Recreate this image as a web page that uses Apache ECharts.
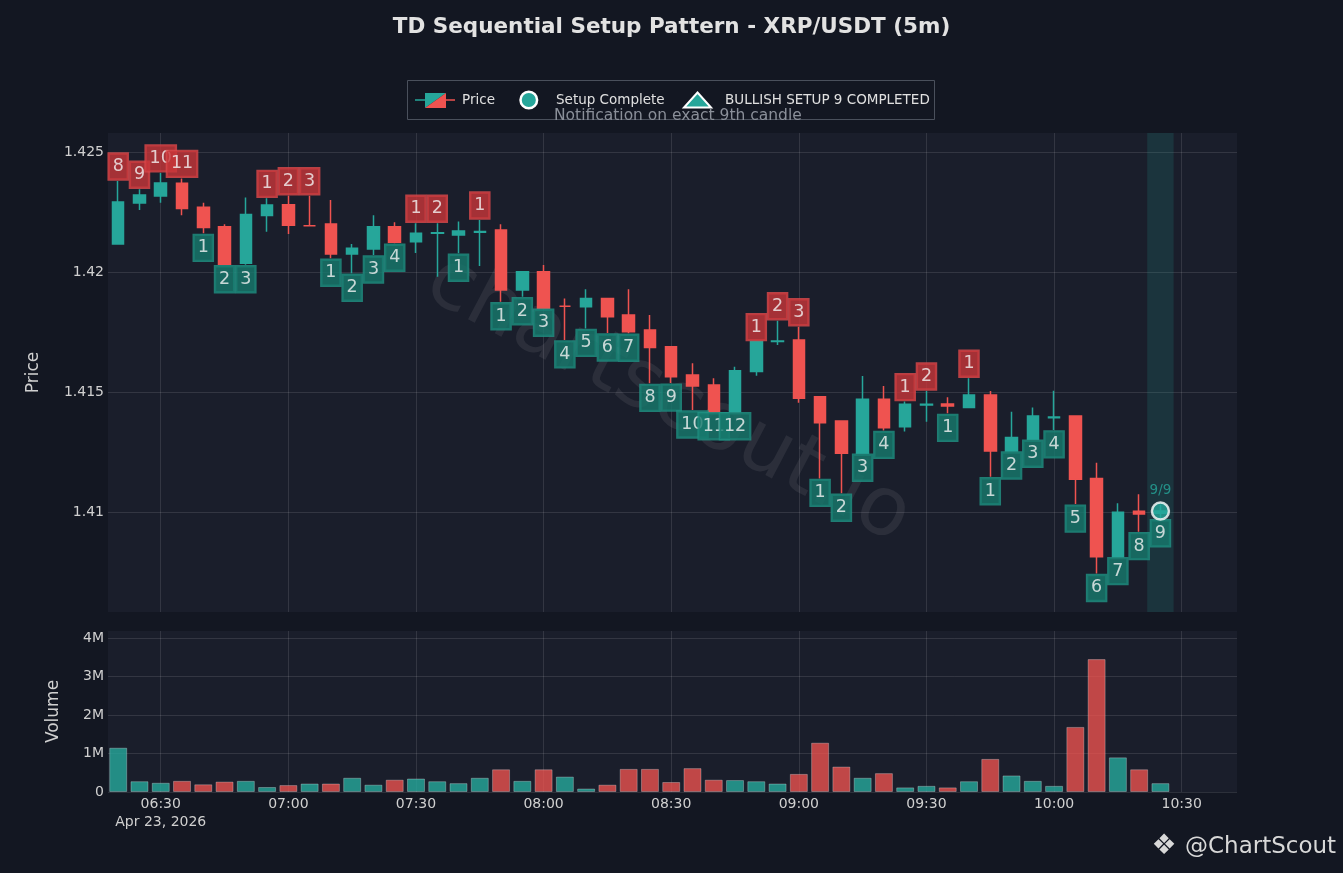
<!DOCTYPE html>
<html>
<head>
<meta charset="utf-8">
<script src="https://cdn.jsdelivr.net/npm/echarts@6/dist/echarts.min.js"></script>
<style>
html,body{margin:0;padding:0;background:#131722;}
#chart{width:1343px;height:873px;}
</style>
</head>
<body>
<div id="chart"></div>
<script>
const times = ['06:20','06:25','06:30','06:35','06:40','06:45','06:50','06:55','07:00','07:05',
  '07:10','07:15','07:20','07:25','07:30','07:35','07:40','07:45','07:50','07:55',
  '08:00','08:05','08:10','08:15','08:20','08:25','08:30','08:35','08:40','08:45',
  '08:50','08:55','09:00','09:05','09:10','09:15','09:20','09:25','09:30','09:35',
  '09:40','09:45','09:50','09:55','10:00','10:05','10:10','10:15','10:20','10:25'];
const openP = [1.42117,1.42288,1.42317,1.42370,1.42270,1.42189,1.42036,1.42235,1.42280,1.42193,
  1.42200,1.42075,1.42096,1.42189,1.42126,1.42161,1.42154,1.42166,1.42175,1.41925,
  1.42001,1.41857,1.41855,1.41890,1.41821,1.41758,1.41689,1.41571,1.41529,1.41418,
  1.41585,1.41710,1.41717,1.41480,1.41379,1.41245,1.41470,1.41355,1.41446,1.41450,
  1.41435,1.41487,1.41254,1.41303,1.41393,1.41400,1.41140,1.40814,1.41003,1.40995];
const closeP = [1.42292,1.42321,1.42371,1.42265,1.42185,1.42032,1.42240,1.42279,1.42195,1.42193,
  1.42075,1.42099,1.42189,1.42124,1.42161,1.42164,1.42171,1.42169,1.41925,1.42001,
  1.41849,1.41857,1.41890,1.41814,1.41751,1.41685,1.41564,1.41525,1.41418,1.41589,
  1.41710,1.41713,1.41474,1.41372,1.41245,1.41470,1.41351,1.41449,1.41449,1.41442,
  1.41487,1.41254,1.41310,1.41400,1.41396,1.41136,1.40814,1.40999,1.40992,1.41004];
const lowP = [1.42115,1.42258,1.42289,1.42237,1.42161,1.42030,1.42030,1.42168,1.42158,1.42193,
  1.42057,1.41995,1.42071,1.42120,1.42079,1.41980,1.42078,1.42025,1.41876,1.41897,
  1.41849,1.41717,1.41765,1.41746,1.41745,1.41536,1.41537,1.41425,1.41418,1.41418,
  1.41568,1.41696,1.41455,1.41140,1.41078,1.41245,1.41340,1.41335,1.41376,1.41411,
  1.41435,1.41147,1.41254,1.41303,1.41342,1.41033,1.40744,1.40814,1.40918,1.40972];
const highP = [1.42379,1.42345,1.42413,1.42390,1.42289,1.42199,1.42310,1.42307,1.42318,1.42318,
  1.42300,1.42117,1.42237,1.42207,1.42203,1.42203,1.42210,1.42217,1.42199,1.42001,
  1.42029,1.41890,1.41928,1.41890,1.41928,1.41821,1.41689,1.41620,1.41557,1.41605,
  1.41710,1.41797,1.41772,1.41480,1.41379,1.41567,1.41525,1.41460,1.41504,1.41478,
  1.41557,1.41504,1.41418,1.41435,1.41505,1.41400,1.41205,1.41036,1.41074,1.41030];
const volume = [1.15,0.28,0.24,0.29,0.20,0.27,0.29,0.13,0.18,0.22,
  0.22,0.37,0.19,0.32,0.35,0.28,0.23,0.37,0.59,0.29,
  0.59,0.40,0.09,0.19,0.60,0.60,0.26,0.62,0.32,0.31,
  0.28,0.22,0.47,1.28,0.66,0.37,0.49,0.12,0.16,0.12,
  0.28,0.86,0.43,0.29,0.16,1.69,3.45,0.90,0.59,0.23].map(v => v * 1e6);
const sellCount = [8,9,10,11,null,null,null,1,2,3,null,null,null,null,1,2,null,1,null,null,
  null,null,null,null,null,null,null,null,null,null,1,2,3,null,null,null,null,1,2,null,
  1,null,null,null,null,null,null,null,null,null];
const buyCount = [null,null,null,null,1,2,3,null,null,null,1,2,3,4,null,null,1,null,1,2,
  3,4,5,6,7,8,9,10,11,12,null,null,null,1,2,3,4,null,null,1,
  null,1,2,3,4,5,6,7,8,9];
const setupIndex = [49];
const setupText = ['9/9'];
const xTickLabels = ['06:30','07:00','07:30','08:00','08:30','09:00','09:30','10:00','10:30'];
const dateLabel = 'Apr 23, 2026';
const priceTicks = [1.41, 1.415, 1.42, 1.425];
const volumeTicks = [0, 1e6, 2e6, 3e6, 4e6];

const UP = '#26a69a', DOWN = '#ef5350';
const toMin = s => { const [h, m] = s.split(':').map(Number); return h * 60 + m; };
const fmtMin = v => { const h = Math.floor(v / 60), m = Math.round(v - h * 60); return String(h).padStart(2,'0') + ':' + String(m).padStart(2,'0'); };
const tx = times.map(toMin);
const xTicks = xTickLabels.map(toMin);
const X_MIN = 377.6, X_MAX = 643.0;
const FONT = 'DejaVu Sans';

const candleData = tx.map((x, i) => [x, openP[i], closeP[i], lowP[i], highP[i]]);
const volData = tx.map((x, i) => [x, volume[i]]);
const sellData = [], buyData = [];
tx.forEach((x, i) => {
  if (sellCount[i] != null) sellData.push([x, highP[i], sellCount[i]]);
  if (buyCount[i] != null) buyData.push([x, lowP[i], buyCount[i]]);
});
const setupData = setupIndex.map((i, k) => [tx[i], closeP[i], setupText[k]]);
const shadeFrom = tx[setupIndex[0]] - 3.1, shadeTo = tx[setupIndex[0]] + 3.1;

const splitStyle = { show: true, lineStyle: { color: 'rgba(255,255,255,0.11)', width: 1 } };
const tdLabel = (bg, border, pos) => ({
  show: true, position: pos, distance: 1,
  formatter: p => String(p.value[2]),
  color: '#f4f4f4', fontSize: 17.5, lineHeight: 18, fontFamily: FONT,
  backgroundColor: bg, borderColor: border, borderWidth: 1.2,
  padding: [4, 4, 4, 4]
});

const chart = echarts.init(document.getElementById('chart'));
chart.setOption({
  backgroundColor: '#131722',
  animation: false,
  textStyle: { fontFamily: FONT },
  title: {
    text: 'TD Sequential Setup Pattern - XRP/USDT (5m)',
    left: 'center', top: 11,
    textStyle: { color: '#e2e2e2', fontSize: 21.5, fontWeight: 'bold', fontFamily: FONT }
  },
  grid: [
    { left: 108, right: 106, top: 133, height: 479, show: true, backgroundColor: '#1a1e2b', borderWidth: 0 },
    { left: 108, right: 106, top: 631, height: 161, show: true, backgroundColor: '#1a1e2b', borderWidth: 0 }
  ],
  xAxis: [
    { type: 'value', gridIndex: 0, min: X_MIN, max: X_MAX,
      axisLine: { show: false }, axisTick: { show: false, customValues: xTicks },
      axisLabel: { show: false, customValues: xTicks }, splitLine: splitStyle },
    { type: 'value', gridIndex: 1, min: X_MIN, max: X_MAX,
      axisLine: { show: false }, axisTick: { show: false, customValues: xTicks },
      axisLabel: { show: true, customValues: xTicks, color: '#d0d0d0', fontSize: 14, fontFamily: FONT,
        margin: 3, lineHeight: 18,
        formatter: v => (Math.abs(v - xTicks[0]) < 0.01 ? fmtMin(v) + '\n' + dateLabel : fmtMin(v)) },
      splitLine: splitStyle }
  ],
  yAxis: [
    { type: 'value', gridIndex: 0, min: 1.405833, max: 1.425792, scale: true,
      axisLine: { show: false }, axisTick: { show: false, customValues: priceTicks },
      axisLabel: { customValues: priceTicks, color: '#d0d0d0', fontSize: 14, margin: 4, fontFamily: FONT,
        formatter: v => String(+(+v).toFixed(4)) },
      splitLine: splitStyle,
      name: 'Price', nameLocation: 'middle', nameGap: 66,
      nameTextStyle: { color: '#d0d0d0', fontSize: 17, fontFamily: FONT } },
    { type: 'value', gridIndex: 1, min: 0, max: 4.18e6,
      axisLine: { show: false }, axisTick: { show: false, customValues: volumeTicks },
      axisLabel: { customValues: volumeTicks, color: '#d0d0d0', fontSize: 14, margin: 4, fontFamily: FONT,
        formatter: v => (v === 0 ? '0' : Math.round(v / 1e6) + 'M') },
      splitLine: splitStyle,
      name: 'Volume', nameLocation: 'middle', nameGap: 46,
      nameTextStyle: { color: '#d0d0d0', fontSize: 17, fontFamily: FONT } }
  ],
  series: [
    { name: 'Price', type: 'candlestick', xAxisIndex: 0, yAxisIndex: 0,
      data: candleData, encode: { x: 0, y: [1, 2, 3, 4] }, barWidth: 12, z: 3,
      itemStyle: { color: UP, color0: DOWN, borderColor: UP, borderColor0: DOWN,
        borderColorDoji: DOWN, borderWidth: 1.5 },
      markArea: { silent: true, itemStyle: { color: 'rgba(38,166,154,0.17)' },
        data: [[{ xAxis: shadeFrom }, { xAxis: shadeTo }]] } },
    { name: 'Volume', type: 'bar', xAxisIndex: 1, yAxisIndex: 1, data: volData, barWidth: 18,
      itemStyle: {
        color: p => (closeP[p.dataIndex] >= openP[p.dataIndex] ? 'rgba(38,166,154,0.82)' : 'rgba(239,83,80,0.78)'),
        borderColor: 'rgba(255,255,255,0.28)', borderWidth: 1 } },
    { name: 'Sell Setup', type: 'scatter', xAxisIndex: 0, yAxisIndex: 0, data: sellData,
      symbolSize: 1, itemStyle: { color: 'rgba(0,0,0,0)' }, z: 5,
      label: tdLabel('#c8363a', '#dd4b4e', 'top') },
    { name: 'Buy Setup', type: 'scatter', xAxisIndex: 0, yAxisIndex: 0, data: buyData,
      symbolSize: 1, itemStyle: { color: 'rgba(0,0,0,0)' }, z: 5,
      label: tdLabel('#177a6e', '#229386', 'bottom') },
    { name: 'Setup Complete', type: 'scatter', xAxisIndex: 0, yAxisIndex: 0, data: setupData,
      symbol: 'circle', symbolSize: 17, z: 6,
      itemStyle: { color: UP, borderColor: '#ffffff', borderWidth: 2.5 },
      label: { show: true, position: 'top', distance: 4, formatter: p => p.value[2],
        color: UP, fontSize: 13.5, fontFamily: FONT } }
  ],
  graphic: [
    { type: 'text', z: 1, x: 668, y: 400, rotation: -0.483,
      style: { text: 'chartscout.io', fill: 'rgba(255,255,255,0.075)', fontSize: 82, fontFamily: FONT,
        align: 'center', verticalAlign: 'middle', textAlign: 'center', textVerticalAlign: 'middle' } },
    { type: 'rect', z: 10, shape: { x: 407.5, y: 80.5, width: 527, height: 39 },
      style: { fill: 'rgba(0,0,0,0)', stroke: '#4a505c', lineWidth: 1 } },
    { type: 'line', z: 10, shape: { x1: 415, y1: 100, x2: 425, y2: 100 }, style: { stroke: UP, lineWidth: 1.5 } },
    { type: 'line', z: 10, shape: { x1: 446, y1: 100, x2: 455, y2: 100 }, style: { stroke: DOWN, lineWidth: 1.5 } },
    { type: 'polygon', z: 10, shape: { points: [[425, 93], [446, 93], [425, 108]] }, style: { fill: UP } },
    { type: 'polygon', z: 10, shape: { points: [[446, 93], [446, 108], [425, 108]] }, style: { fill: DOWN } },
    { type: 'text', z: 10, x: 462, y: 100,
      style: { text: 'Price', fill: '#e0e0e0', fontSize: 13.5, fontFamily: FONT, verticalAlign: 'middle', textVerticalAlign: 'middle' } },
    { type: 'circle', z: 10, shape: { cx: 528.8, cy: 100, r: 8.3 }, style: { fill: UP, stroke: '#ffffff', lineWidth: 2.5 } },
    { type: 'text', z: 10, x: 556, y: 100,
      style: { text: 'Setup Complete', fill: '#e0e0e0', fontSize: 13.5, fontFamily: FONT, verticalAlign: 'middle', textVerticalAlign: 'middle' } },
    { type: 'polygon', z: 10, shape: { points: [[697.5, 92.5], [711, 107.5], [684, 107.5]] },
      style: { fill: UP, stroke: '#ffffff', lineWidth: 2, lineJoin: 'miter' } },
    { type: 'text', z: 10, x: 725, y: 100,
      style: { text: 'BULLISH SETUP 9 COMPLETED', fill: '#e0e0e0', fontSize: 13.5, fontFamily: FONT, verticalAlign: 'middle', textVerticalAlign: 'middle' } },
    { type: 'text', z: 10, x: 554, y: 116,
      style: { text: 'Notification on exact 9th candle', fill: '#8a8f99', fontSize: 15.5, fontFamily: FONT, verticalAlign: 'middle', textVerticalAlign: 'middle' } },
    { type: 'text', z: 10, x: 1164, y: 847,
      style: { text: '❖', fill: '#d8d8d8', fontSize: 28, fontFamily: FONT, align: 'center', verticalAlign: 'middle', textAlign: 'center', textVerticalAlign: 'middle' } },
    { type: 'text', z: 10, x: 1185, y: 847,
      style: { text: '@ChartScout', fill: '#d8d8d8', fontSize: 23, fontFamily: FONT, verticalAlign: 'middle', textVerticalAlign: 'middle' } }
  ]
});
</script>
</body>
</html>
